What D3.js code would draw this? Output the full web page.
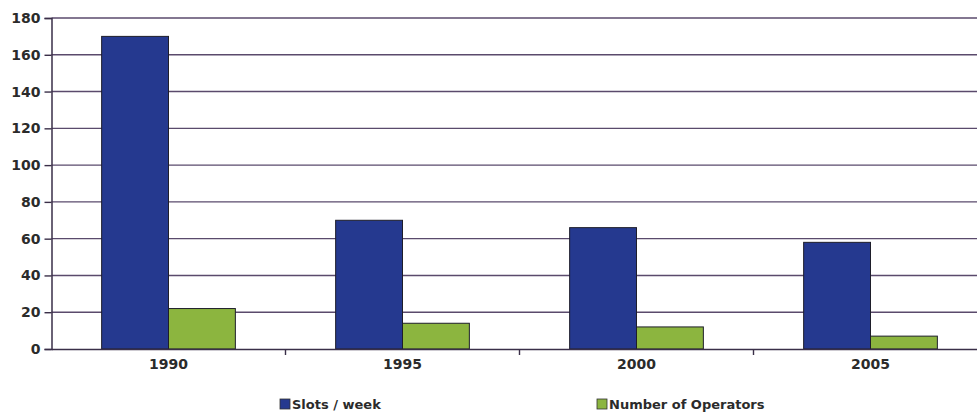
<!DOCTYPE html>
<html>
<head>
<meta charset="utf-8">
<script src="https://cdn.jsdelivr.net/npm/d3@7"></script>
<style>
  body { margin: 0; background: #fff; }
  svg text { font-family: "DejaVu Sans", Arial, sans-serif; font-weight: bold; fill: #2b2b2b; }
</style>
</head>
<body>
<div id="chart"></div>
<script>
const years = ["1990", "1995", "2000", "2005"];
const seriesNames = ["Slots / week", "Number of Operators"];
const slotsPerWeek = [170, 70, 66, 58];
const numOperators = [22, 14, 12, 7];
const yTicks = [0, 20, 40, 60, 80, 100, 120, 140, 160, 180];

const width = 977, height = 412;
const colors = ["#25398f", "#8cb53f"];

const svg = d3.select("#chart").append("svg")
  .attr("width", width)
  .attr("height", height);

const x0 = d3.scaleBand()
  .domain(years)
  .range([51.5, 51.5 + 234 * 4])
  .padding(0);

const x1 = d3.scaleBand()
  .domain(seriesNames)
  .range([0, x0.bandwidth()])
  .paddingInner(0)
  .paddingOuter(0.75);

const y = d3.scaleLinear()
  .domain([0, 180])
  .range([349, 18]);

// gridlines
svg.append("g").selectAll("line")
  .data(yTicks.filter(d => d > 0))
  .enter()
  .append("line")
    .attr("x1", 51.5)
    .attr("x2", width)
    .attr("y1", d => y(d))
    .attr("y2", d => y(d))
    .attr("stroke", "#5a4a6c")
    .attr("stroke-width", 1.4);

// bars
const rows = years.map((yr, i) => ({ year: yr, values: [slotsPerWeek[i], numOperators[i]] }));
const groups = svg.append("g").selectAll("g")
  .data(rows)
  .enter()
  .append("g")
    .attr("transform", d => `translate(${x0(d.year)},0)`);

groups.selectAll("rect")
  .data(d => d.values.map((v, j) => ({ key: seriesNames[j], value: v, idx: j })))
  .enter()
  .append("rect")
    .attr("x", d => x1(d.key))
    .attr("y", d => y(d.value))
    .attr("width", x1.bandwidth())
    .attr("height", d => y(0) - y(d.value))
    .attr("fill", d => colors[d.idx])
    .attr("stroke", "#1e1e2a")
    .attr("stroke-width", 1);

// y axis
const yAxis = svg.append("g")
  .attr("transform", "translate(51.5,0)")
  .call(d3.axisLeft(y).tickValues(yTicks).tickSize(7).tickPadding(4));
yAxis.select(".domain").attr("stroke", "#3a2f48").attr("stroke-width", 1.5);
yAxis.selectAll(".tick line").attr("stroke", "#3a2f48").attr("stroke-width", 1.4);
yAxis.selectAll("text").style("font-size", "14px").attr("fill", "#2b2b2b");

// x axis
const xAxis = svg.append("g")
  .attr("transform", "translate(0,349)")
  .call(d3.axisBottom(x0).tickSize(0).tickPadding(10));
xAxis.select(".domain").attr("stroke", "#3a2f48").attr("stroke-width", 1.5);
xAxis.selectAll("text").style("font-size", "14px").attr("fill", "#2b2b2b");

// ticks between categories
svg.append("g").selectAll("line")
  .data(years.slice(1).concat(["end"]))
  .enter()
  .append("line")
    .attr("x1", (d, i) => 51.5 + x0.step() * (i + 1))
    .attr("x2", (d, i) => 51.5 + x0.step() * (i + 1))
    .attr("y1", 349)
    .attr("y2", 355)
    .attr("stroke", "#3a2f48")
    .attr("stroke-width", 1.4);

// legend
const legendX = [280, 597];
const legend = svg.append("g").selectAll("g")
  .data(seriesNames)
  .enter()
  .append("g")
    .attr("transform", (d, i) => `translate(${legendX[i]},399)`);
legend.append("rect")
  .attr("width", 10)
  .attr("height", 10)
  .attr("fill", (d, i) => colors[i])
  .attr("stroke", "#333")
  .attr("stroke-width", 0.8);
legend.append("text")
  .attr("x", 12)
  .attr("y", 10)
  .style("font-size", "13px")
  .text(d => d);
</script>
</body>
</html>
